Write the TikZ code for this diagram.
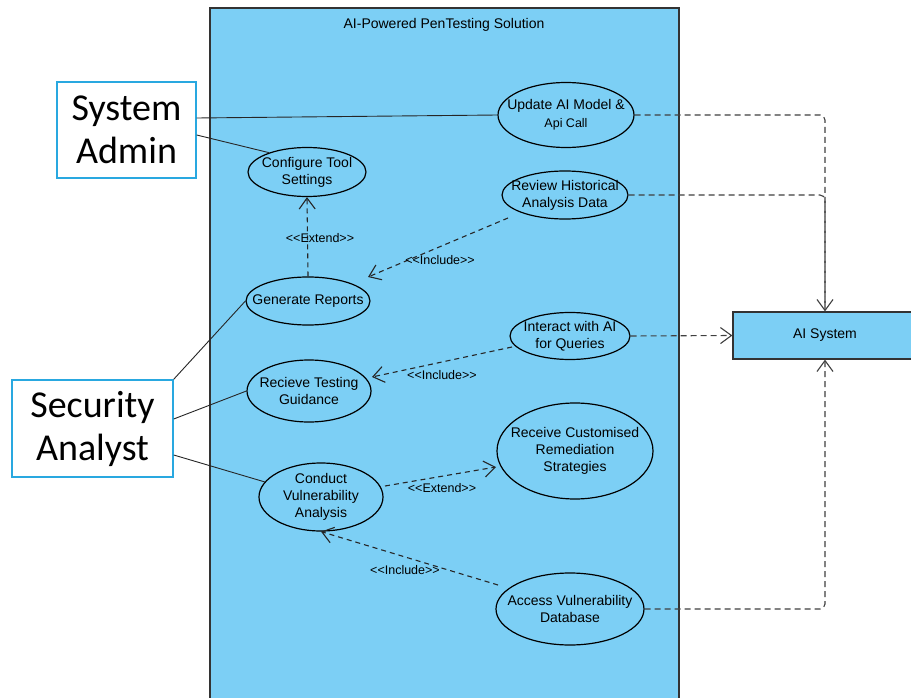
\documentclass[tikz,border=0pt]{standalone}
\usepackage{fontspec}
\setmainfont{Liberation Sans}
\newfontfamily\labelfont{Liberation Sans}
\newfontfamily\actorfont{Carlito}
\usetikzlibrary{shapes.geometric,arrows.meta,calc}

\definecolor{sysblue}{RGB}{124,207,245}
\definecolor{actorblue}{RGB}{41,168,224}
\definecolor{edgegray}{RGB}{64,64,64}

\begin{document}
\begin{tikzpicture}[x=1pt,y=-1pt,
  usecase/.style={ellipse, draw=black, line width=1.2pt, fill=sysblue, inner sep=0pt,
    label={[align=center, inner sep=0pt, font=\fontsize{14}{17}\selectfont]center:#1}},
  actor/.style={rectangle, draw=actorblue, line width=1.4pt, fill=white, inner sep=0pt,
    align=center, font=\actorfont\fontsize{38}{43}\selectfont},
  assoc/.style={draw=black!85, line width=0.9pt},
  tip/.style={-{Straight Barb[length=11pt,width=16pt]}},
  depend/.style={draw=black!85, line width=1.1pt, dash pattern=on 5pt off 4pt, tip},
  outdep/.style={draw=edgegray, line width=1.1pt, dash pattern=on 6pt off 4pt, rounded corners=5pt},
  stereo/.style={font=\labelfont\fontsize{12.5}{14}\selectfont, inner sep=1pt},
]
\clip (0,0) rectangle (911,698);
\fill[white] (0,0) rectangle (911,698);

% system boundary
\draw[fill=sysblue, draw=black!80, line width=1.3pt] (210,8) rectangle (679,710);
\node[font=\fontsize{14}{17}\selectfont] (title) at (444,25) {AI-Powered PenTesting Solution};

% actors
\node[actor, minimum width=139pt, minimum height=96pt] (admin) at (126.5,130) {System\\Admin};
\node[actor, minimum width=161pt, minimum height=97pt] (analyst) at (92.5,428.5) {Security\\Analyst};

% use cases
\node[usecase={Update AI Model \&\\[1pt]{\fontsize{12.5}{15}\selectfont Api Call}},
  minimum width=136pt, minimum height=65pt] (upd) at (566,115) {};
\node[usecase={Configure Tool\\Settings}, minimum width=118pt, minimum height=49pt] (cfg) at (307,172) {};
\node[usecase={Review Historical\\Analysis Data}, minimum width=126pt, minimum height=48pt] (rev) at (565,195) {};
\node[usecase={Generate Reports}, minimum width=124pt, minimum height=48pt] (gen) at (308,301) {};
\node[usecase={Interact with AI\\for Queries}, minimum width=120pt, minimum height=47pt] (iq) at (570,336) {};
\node[usecase={Recieve Testing\\Guidance}, minimum width=124pt, minimum height=62pt] (rtg) at (309,391) {};
\node[usecase={Receive Customised\\Remediation\\Strategies}, minimum width=156pt, minimum height=96pt] (rcr) at (575,451) {};
\node[usecase={Conduct\\Vulnerability\\Analysis}, minimum width=124pt, minimum height=68pt] (cva) at (321,497) {};
\node[usecase={Access Vulnerability\\Database}, minimum width=148pt, minimum height=72pt] (avd) at (570,609) {};

% external system
\node[draw=black!80, fill=sysblue, line width=1.2pt, minimum width=184pt, minimum height=47pt,
  inner sep=0pt, font=\fontsize{14}{17}\selectfont] (ai) at (825,335.5) {AI System};

% actor associations
\draw[assoc] ([yshift=12pt]admin.east) -- (upd.west);
\draw[assoc] ([yshift=-5pt]admin.east) -- (cfg.153);
\draw[assoc] (analyst.north east) -- (gen.west);
\draw[assoc] ([yshift=9.5pt]analyst.east) -- (rtg.west);
\draw[assoc] ([yshift=-26.5pt]analyst.east) -- (cva.165);

% connector end points
\coordinate (genTip) at ([shift={(60,-24)}]gen.center);
\coordinate (revOut) at ([shift={(-57,23)}]rev.center);
\coordinate (iqOut) at ([shift={(-58,11)}]iq.center);
\coordinate (rtgTip) at ([shift={(63,-14)}]rtg.center);
\coordinate (cvaOut) at ([shift={(64,-11)}]cva.center);
\coordinate (rcrTip) at ([shift={(-79,16)}]rcr.center);
\coordinate (avdOut) at ([shift={(-72,-24)}]avd.center);

% include / extend relations
\draw[depend] (gen.north) -- (cfg.south);
\node[stereo] (lx1) at (320,238) {<<Extend>>};
\draw[depend] (revOut) -- (genTip);
\node[stereo] (li1) at (440,260) {<<Include>>};
\draw[depend] (iqOut) -- (rtgTip);
\node[stereo] (li2) at (442,375) {<<Include>>};
\draw[depend] (cvaOut) -- (rcrTip);
\node[stereo] (lx2) at (442,488) {<<Extend>>};
\draw[depend] (avdOut) -- (cva.south);
\node[stereo] (li3) at (405,570) {<<Include>>};

% links to the AI system
\draw[outdep, tip] (upd.east) -| (ai.north);
\draw[outdep] (rev.east) -| (ai.north);
\draw[outdep, tip] (iq.east) -- (ai.west);
\draw[outdep, tip] (avd.east) -| (ai.south);
\end{tikzpicture}
\end{document}
